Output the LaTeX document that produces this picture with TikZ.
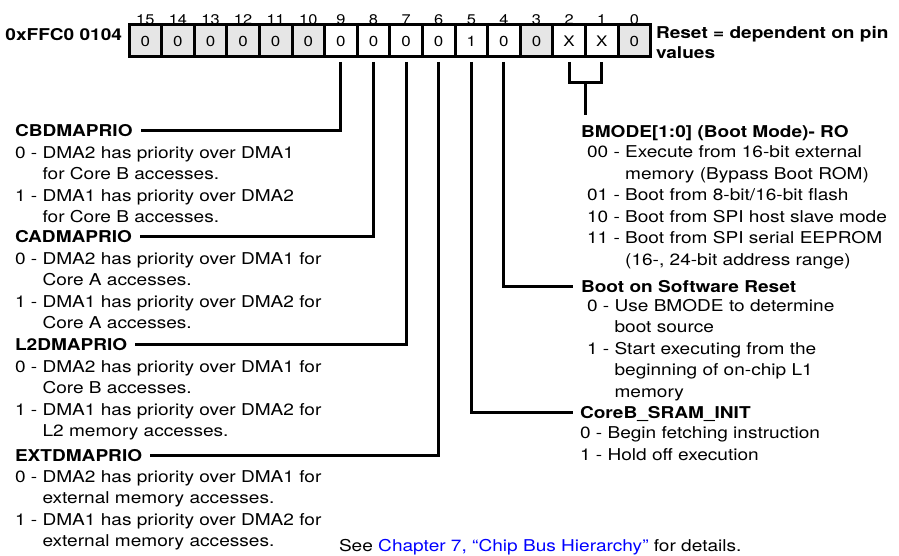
\documentclass[tikz,border=0pt]{standalone}
\usepackage{fontspec}
\setmainfont[FakeStretch=1.17]{TeX Gyre Heros}
\usepackage{xcolor}
\usepackage{tikz}
\usetikzlibrary{calc}
\definecolor{resvgray}{HTML}{E6E6E6}
\tikzset{every edge/.style={draw,line width=3pt},
	elbow/.style={to path={|- (\tikztotarget)}}}
\tikzstyle{bitcell}=[rectangle,draw=black,fill=white,line width=3pt,inner sep=0pt,outer sep=0pt,minimum width=32.6pt,minimum height=32pt,font=\fontsize{14.5}{16}\selectfont,label distance=7pt]
\tikzstyle{resvcell}=[bitcell,fill=resvgray]
\tikzstyle{bitnum}=[inner sep=0pt,font=\fontsize{14}{16}\selectfont]
\tikzstyle{fieldname}=[anchor=base west,inner sep=0pt,outer sep=0pt,text height=11.7pt,text depth=0pt,font=\fontsize{16.3}{21.5}\selectfont\bfseries]
\tikzstyle{fielddesc}=[anchor=base west,inner sep=0pt,outer sep=0pt,font=\fontsize{16.3}{21.5}\selectfont]
\newcommand{\desclines}[1]{\parbox[t]{330pt}{\raggedright #1}}

\begin{document}
\begin{tikzpicture}[x=1pt,y=-1pt]
	\useasboundingbox (0,0) rectangle (899,556);
	% register
	\node at (145.3,41) [resvcell,label={[bitnum]above:15}] (b15) {0};
	\node at (177.9,41) [resvcell,label={[bitnum]above:14}] (b14) {0};
	\node at (210.5,41) [resvcell,label={[bitnum]above:13}] (b13) {0};
	\node at (243.1,41) [resvcell,label={[bitnum]above:12}] (b12) {0};
	\node at (275.7,41) [resvcell,label={[bitnum]above:11}] (b11) {0};
	\node at (308.3,41) [resvcell,label={[bitnum]above:10}] (b10) {0};
	\node at (340.9,41) [bitcell,label={[bitnum]above:9}] (b9) {0};
	\node at (373.5,41) [bitcell,label={[bitnum]above:8}] (b8) {0};
	\node at (406.1,41) [bitcell,label={[bitnum]above:7}] (b7) {0};
	\node at (438.7,41) [bitcell,label={[bitnum]above:6}] (b6) {0};
	\node at (471.3,41) [bitcell,label={[bitnum]above:5}] (b5) {1};
	\node at (503.9,41) [bitcell,label={[bitnum]above:4}] (b4) {0};
	\node at (536.5,41) [resvcell,label={[bitnum]above:3}] (b3) {0};
	\node at (569.1,41) [bitcell,label={[bitnum]above:2}] (b2) {X};
	\node at (601.7,41) [bitcell,label={[bitnum]above:1}] (b1) {X};
	\node at (634.3,41) [resvcell,label={[bitnum]above:0}] (b0) {0};
	\node at ([xshift=-7pt]b15.west) [fieldname,anchor=base east] (regaddr) {0xFFC0 0104};
	\node at (656,39) [fielddesc] (resetval) {\bfseries\desclines{Reset = dependent on pin\\[-2pt]values}};
	% left fields
	\node at (15,136.5) [fieldname] (cbd) {CBDMAPRIO};
	\node at (15,158.5) [fielddesc] (cbdtext) {\desclines{0 - DMA2 has priority over DMA1\\\phantom{0 - }for Core B accesses.\\1 - DMA1 has priority over DMA2\\\phantom{0 - }for Core B accesses.}};
	\node at (15,242.5) [fieldname] (cad) {CADMAPRIO};
	\node at (15,264) [fielddesc] (cadtext) {\desclines{0 - DMA2 has priority over DMA1 for\\\phantom{0 - }Core A accesses.\\1 - DMA1 has priority over DMA2 for\\\phantom{0 - }Core A accesses.}};
	\node at (15,350) [fieldname] (l2d) {L2DMAPRIO};
	\node at (15,372) [fielddesc] (l2dtext) {\desclines{0 - DMA2 has priority over DMA1 for\\\phantom{0 - }Core B accesses.\\1 - DMA1 has priority over DMA2 for\\\phantom{0 - }L2 memory accesses.}};
	\node at (15,461) [fieldname] (ext) {EXTDMAPRIO};
	\node at (15,482) [fielddesc] (exttext) {\desclines{0 - DMA2 has priority over DMA1 for\\\phantom{0 - }external memory accesses.\\1 - DMA1 has priority over DMA2 for\\\phantom{0 - }external memory accesses.}};
	% right fields
	\node at (581,137.5) [fieldname] (bmode) {BMODE[1:0] (Boot Mode)- RO};
	\node at (581,158) [fielddesc] (bmodetext) {\desclines{\hspace*{6pt}00 - Execute from 16-bit external\\\hspace*{6pt}\phantom{00 - }memory (Bypass Boot ROM)\\\hspace*{6pt}01 - Boot from 8-bit/16-bit flash\\\hspace*{6pt}10 - Boot from SPI host slave mode\\\hspace*{6pt}11 - Boot from SPI serial EEPROM\\\hspace*{6pt}\phantom{00 - }(16-, 24-bit address range)}};
	\node at (581,292) [fieldname] (boot) {Boot on Software Reset};
	\node at (581,311) [fielddesc] (boottext) {\desclines{\hspace*{6pt}0 - Use BMODE to determine\\\hspace*{6pt}\phantom{0 - }boot source\\\hspace*{6pt}1 - Start executing from the\\\hspace*{6pt}\phantom{0 - }beginning of on-chip L1\\\hspace*{6pt}\phantom{0 - }memory}};
	\node at (580,418) [fieldname] (coreb) {CoreB\_SRAM\_INIT};
	\node at (580,438.5) [fielddesc] (corebtext) {\desclines{0 - Begin fetching instruction\\1 - Hold off execution}};
	\node at (339,551) [fielddesc] (seealso) {See \textcolor{blue}{Chapter 7, “Chip Bus Hierarchy”} for details.};
	% connectors
	\draw ([yshift=-5pt]b9.south) edge[elbow] ([xshift=8pt]cbd.east);
	\draw ([yshift=-5pt]b8.south) edge[elbow] ([xshift=8pt]cad.east);
	\draw ([yshift=-5pt]b7.south) edge[elbow] ([xshift=8pt]l2d.east);
	\draw ([yshift=-5pt]b6.south) edge[elbow] ([xshift=8pt]ext.east);
	\draw ([yshift=-5pt]b5.south) edge[elbow] ([xshift=-7pt]coreb.west);
	\draw ([yshift=-5pt]b4.south) edge[elbow] ([xshift=-8pt]boot.west);
	\draw[line width=3pt] ([yshift=-5pt]b2.south) -- ++(0,21) -| ([yshift=-5pt]b1.south);
	\coordinate (bm) at ($([yshift=-26pt]b2.south)!0.5!([yshift=-26pt]b1.south)$);
	\draw (bm) edge ([yshift=11pt]bm |- bmode.north);
\end{tikzpicture}
\end{document}
